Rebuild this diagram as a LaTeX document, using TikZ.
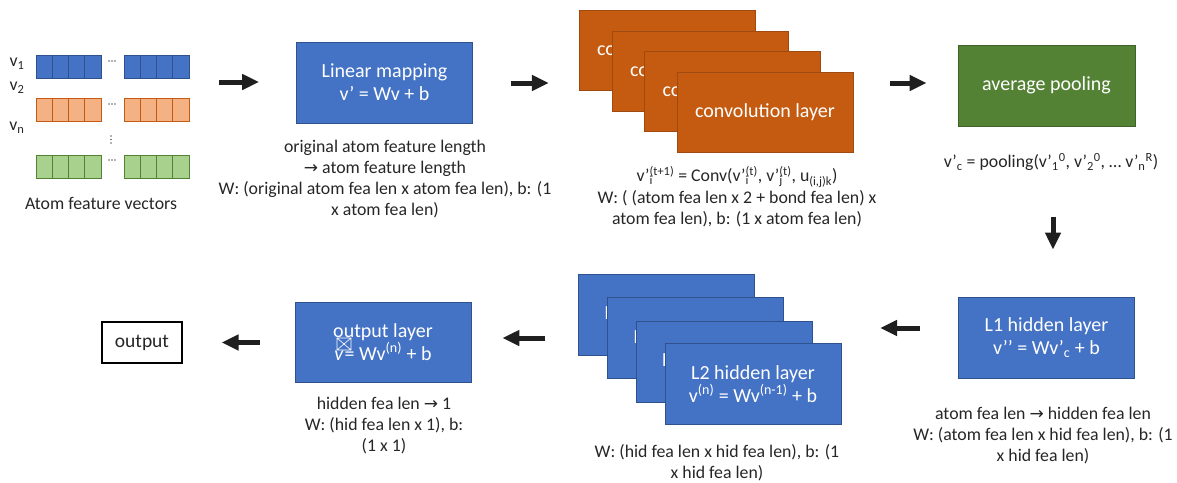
\documentclass[tikz,border=0pt]{standalone}
\usepackage{fontspec}
\setmainfont{Carlito}
\newfontfamily\dejavu{DejaVu Sans}
\usetikzlibrary{arrows.meta}
\definecolor{pblue}{HTML}{4472C4}
\definecolor{pblueD}{HTML}{2F528F}
\definecolor{porange}{HTML}{C55A11}
\definecolor{porangeD}{HTML}{A04A10}
\definecolor{pgreen}{HTML}{548235}
\definecolor{pgreenD}{HTML}{3F6228}
\definecolor{lorange}{HTML}{F4B183}
\definecolor{lgreen}{HTML}{A9D18E}
\newcommand\mysupsub[2]{\rlap{\textsubscript{#2}}\textsuperscript{#1}}
\newcommand\rarr{{\dejavu\fontsize{17}{17}\selectfont →}}
\tikzset{
  boxtxt/.style={font=\fontsize{20}{23}\selectfont, text=white, align=center},
  bluebox/.style={boxtxt, draw=pblueD, fill=pblue, line width=0.8pt, minimum width=176pt, minimum height=81pt, inner sep=0pt},
  orangebox/.style={boxtxt, draw=porangeD, fill=porange, line width=0.8pt, minimum width=176pt, minimum height=80pt, inner sep=0pt},
  greenbox/.style={boxtxt, draw=pgreenD, fill=pgreen, line width=0.8pt, minimum width=177pt, minimum height=81pt, inner sep=0pt},
  caption/.style={font=\fontsize{17.8}{21}\selectfont, align=center, text=black!85, inner sep=0pt},
  bigarrow/.style={line width=5pt, -{Triangle[length=17pt,width=15pt]}, black!88},
  cellblue/.style={draw=pblueD, fill=pblue, line width=0.8pt},
  cellorange/.style={draw=porange, fill=lorange, line width=0.8pt},
  cellgreen/.style={draw=pgreen, fill=lgreen, line width=0.8pt},
}
\begin{document}
\begin{tikzpicture}[x=1pt,y=-1pt]
\useasboundingbox (0,0) rectangle (1177,482);

% ---------- atom feature vectors ----------
\foreach \y/\st in {55/cellblue, 98/cellorange, 155/cellgreen}{
  \foreach \x in {36,52.25,68.5,84.75, 124,140.25,156.5,172.75}{
    \draw[\st] (\x,\y) rectangle ++(16.25,23.5);
  }
}
\node[font=\fontsize{17.8}{21}\selectfont, text=black!85, inner sep=0pt] (v1) at (17,64) {v\textsubscript{1}};
\node[font=\fontsize{17.8}{21}\selectfont, text=black!85, inner sep=0pt] (v2) at (17,88) {v\textsubscript{2}};
\node[font=\fontsize{17.8}{21}\selectfont, text=black!85, inner sep=0pt] (vn) at (17,128) {v\textsubscript{n}};
\foreach \y in {61,104,160}{
  \foreach \dx in {-3,0,3}{\fill[black!60] (112+\dx,\y) circle (0.8pt);}
}
\foreach \y in {136,139.5,143}{\fill[black!60] (111,\y) circle (0.8pt);}
\node[caption] (vecs) at (101,203) {Atom feature vectors};

% ---------- linear mapping ----------
\node[bluebox] (lin) at (384.5,82.5) {Linear mapping\\v’ = Wv + b};
\node[caption] (lincap) at (385,179) {original atom feature length\\\rarr\ atom feature length\\W: (original atom fea len x atom fea len), b: (1\\x atom fea len)};

% ---------- convolution stack ----------
\node[orangebox] (c1) at (667,50.5) {convolution layer};
\node[orangebox] (c2) at (700,71) {convolution layer};
\node[orangebox] (c3) at (732.5,91.5) {convolution layer};
\node[orangebox] (c4) at (765,112) {convolution layer};
\node[caption] (convcap) at (737,197) {v’\mysupsub{(t+1)}{i} = Conv(v’\mysupsub{(t)}{i}, v’\mysupsub{(t)}{j}, u\textsubscript{(i,j)k})\\[1pt]W: ( (atom fea len x 2 + bond fea len) x\\atom fea len), b: (1 x atom fea len)};

% ---------- pooling ----------
\node[greenbox] (pool) at (1046.5,85.5) {average pooling};
\node[caption] (poolcap) at (1051,162) {v’\textsubscript{c} = pooling(v’\textsubscript{1}\textsuperscript{0}, v’\textsubscript{2}\textsuperscript{0}, … v’\textsubscript{n}\textsuperscript{R})};

% ---------- L1 ----------
\node[bluebox] (l1) at (1046.5,337.5) {L1 hidden layer\\v’’ = Wv’\textsubscript{c} + b};
\node[caption] (l1cap) at (1043,436) {atom fea len \rarr\ hidden fea len\\W: (atom fea len x hid fea len), b: (1\\x hid fea len)};

% ---------- L2 stack ----------
\node[bluebox] (h1) at (666.5,314.5) {L2 hidden layer};
\node[bluebox] (h2) at (695.5,338) {L2 hidden layer};
\node[bluebox] (h3) at (724,361.5) {L2 hidden layer};
\node[bluebox] (h4) at (753,384) {L2 hidden layer\\v\textsuperscript{(n)} = Wv\textsuperscript{(n-1)} + b};
\node[caption] (l2cap) at (717,463) {W: (hid fea len x hid fea len), b: (1\\x hid fea len)};

% ---------- output layer ----------
\node[bluebox, minimum height=80pt] (outl) at (383,342) {output layer\\\textit{v}\hspace{1pt}= Wv\textsuperscript{(n)} + b};
\draw[white, line width=0.6pt] (337,338) rectangle (351,350) (337,338) -- (351,350) (351,338) -- (337,350);
\node[caption] (outcap) at (384,426) {hidden fea len \rarr\ 1\\W: (hid fea len x 1), b:\\(1 x 1)};

% ---------- output ----------
\node[draw=black, line width=1.3pt, fill=white, minimum width=80pt, minimum height=41pt, inner sep=0pt, font=\fontsize{19.5}{22}\selectfont, text=black!85] (out) at (142,342.5) {output};

% ---------- arrows ----------
\draw[bigarrow] ([xshift=-77pt,yshift=0.5pt]lin.west) -- ([xshift=-37pt,yshift=0.5pt]lin.west);
\draw[bigarrow] ([xshift=38pt,yshift=-0.5pt]lin.east) -- ([xshift=76pt,yshift=-0.5pt]lin.east);
\draw[bigarrow] ([xshift=-68pt,yshift=2.5pt]pool.west) -- ([xshift=-31pt,yshift=2.5pt]pool.west);
\draw[bigarrow] ([xshift=6.5pt,yshift=80pt]l1.north) -- ([xshift=6.5pt,yshift=47pt]l1.north);
\draw[bigarrow] ([xshift=-38pt,yshift=9.5pt]l1.west) -- ([xshift=-78pt,yshift=9.5pt]l1.west);
\draw[bigarrow] ([xshift=74pt,yshift=4pt]outl.east) -- ([xshift=31pt,yshift=4pt]outl.east);
\draw[bigarrow] ([xshift=-35pt,yshift=-0.5pt]outl.west) -- ([xshift=-73pt,yshift=-0.5pt]outl.west);
\end{tikzpicture}
\end{document}
